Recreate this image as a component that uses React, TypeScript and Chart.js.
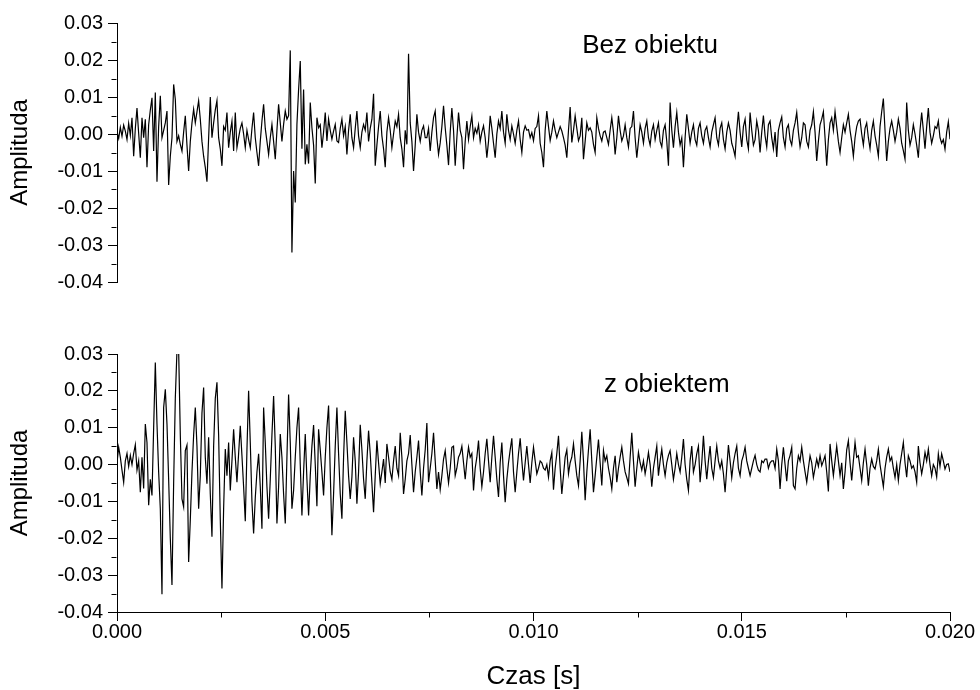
import { useEffect, useRef } from 'react';
import { Chart, registerables } from 'chart.js';

Chart.register(...registerables);

// Sampling period of the recorded signals (seconds per sample)
const SAMPLE_PERIOD_S = 0.00004;
// Amplitude values below are written in thousandths (x 0.001)
const AMPLITUDE_UNIT = 0.001;

// Upper panel: "Bez obiektu"
const BEZ_OBIEKTU = [
  0.5, -1.2, 1.8, -0.6, 2.4, 0.8, -1.5, 2.9, -0.4, 4.4,
  -6.0, 1.5, 7.0, 0.2, -6.4, 4.4, -1.0, 4.0, -9.0, 2.5,
  6.5, 9.8, -4.6, 11.2, -12.9, 2.0, 10.3, -1.0, 1.0, 3.0,
  6.2, -13.8, -6.0, -1.0, 13.4, 9.4, -2.0, -0.5, -2.8, -4.6,
  0.5, 4.9, -3.0, -10.0, -2.0, 3.0, 6.7, 3.0, 6.0, 9.0,
  4.0, -2.0, -6.0, -9.0, -12.9, -1.0, 10.0, -1.0, 3.0, 6.5,
  9.0, -1.0, -4.0, -8.6, 2.0, 1.0, 5.8, -3.7, 0.5, 3.5,
  -4.6, 5.8, -3.7, -1.0, 1.5, 3.0, 0.0, -3.7, 1.0, -1.5,
  -3.7, 1.5, 5.8, -1.0, -5.0, -8.6, -2.0, 3.5, 8.0, 1.5,
  -2.0, -5.5, -1.0, 2.6, -2.0, -6.8, 1.0, 8.0, 3.0, -2.0,
  2.6, 6.2, 4.0, 5.0, 22.6, -32.0, -10.0, -18.5, 2.6, 12.0,
  19.7, -4.0, 12.0, -8.2, -2.8, -8.0, 8.5, 1.7, -3.0, -13.4,
  4.4, 1.7, 2.5, -3.7, 0.5, 5.8, -1.9, 4.0, 1.0, -1.4,
  0.8, 2.6, -1.9, -2.3, 1.5, 4.0, -0.5, 2.0, -5.5, 1.0,
  5.3, -1.0, -3.7, 1.5, 6.2, -0.5, -3.7, 0.5, 2.6, 1.0,
  5.8, -2.0, 1.5, 4.0, 10.9, -8.6, -3.0, 2.0, 6.2, -0.5,
  -4.0, -9.0, 0.5, 4.4, 1.0, -3.7, 0.0, 3.5, 2.0, 5.3,
  -1.0, -4.0, -9.0, 1.0, -2.8, 21.7, 3.0, -2.0, -10.0, -3.0,
  5.3, 0.5, -2.0, 1.0, 2.2, -1.0, -1.0, 1.5, -4.6, 0.5,
  4.4, 6.2, -1.0, -5.5, -2.4, 2.0, 7.6, 1.7, -3.0, -8.4,
  0.5, 7.0, 1.0, -8.6, -1.0, 5.8, 1.0, -1.0, -9.5, -2.0,
  3.5, -1.5, 2.0, 4.9, -1.0, 1.5, 0.2, 2.5, -2.0, 0.5,
  2.2, -1.0, -6.4, -2.0, 4.9, 1.5, -2.5, -6.4, 0.0, 3.5,
  1.5, 6.2, 0.5, -2.5, 5.3, 1.0, -1.5, 2.2, 0.0, -2.5,
  1.0, 3.5, -1.5, -5.0, 0.5, 2.2, 1.0, 1.2, -1.0, 0.4,
  -1.8, 1.5, 2.0, 4.9, -2.5, -5.0, -9.0, 1.0, 6.2, 2.0,
  -1.8, 0.5, 3.5, 1.0, -1.0, 0.5, 2.0, 0.8, -1.0, -3.0,
  -6.4, 1.0, 7.3, -2.3, 1.0, 4.9, 1.5, -1.8, -0.5, 4.4,
  -6.8, -2.0, 3.0, 1.0, 1.7, 0.5, -2.8, -5.0, 4.4, 1.5,
  -0.5, -1.9, 0.5, 0.8, -1.0, -2.8, 1.0, 4.4, 0.5, -5.5,
  -1.0, 4.9, 1.0, -1.9, -0.5, 2.5, -1.0, -3.5, 1.5, 2.0,
  6.2, -1.0, -6.4, -2.0, 2.5, 0.5, -2.5, 1.5, 3.5, -1.0,
  -3.0, 0.8, 2.5, -1.5, 1.0, 3.0, -2.0, -3.5, 1.0, 2.5,
  -2.0, -8.6, 8.5, 1.0, -3.7, 2.0, 5.8, 0.5, -3.0, -1.0,
  -9.0, -1.0, 5.3, 1.5, -2.5, 0.5, 2.5, -1.5, -3.0, 1.5,
  3.0, -0.5, -2.5, 1.0, 2.0, -1.0, -3.5, 0.5, 2.5, 4.4,
  -1.0, -3.0, 1.5, 3.0, -1.5, -4.0, 0.5, 3.0, 1.0, -2.5,
  -4.0, -6.0, 1.0, 6.0, 0.5, -3.5, 2.0, 4.0, -1.5, -4.0,
  5.8, 1.0, -3.0, -1.5, 3.5, 1.0, -5.0, 0.5, 5.0, -0.5,
  -3.5, 2.5, 3.5, -1.0, -4.0, 0.5, -6.2, 1.0, 3.0, 4.6,
  -1.0, -3.5, 1.5, 2.5, -1.5, -3.0, 1.0, 3.0, 5.8, 0.5,
  -3.5, -1.0, 3.0, 2.5, -2.0, -3.5, 1.0, 2.5, 6.0, 0.5,
  -7.3, -2.0, 2.5, 4.0, 6.0, -1.0, -8.6, -1.5, 3.0, 4.4,
  1.0, 6.0, 2.0, -2.0, -5.0, -1.0, 2.5, 0.5, 3.0, 5.3,
  1.0, -2.0, -6.0, -1.0, 2.0, 3.5, 4.0, 0.0, -3.0, 1.5,
  3.0, -1.0, -4.0, 1.0, 3.5, -0.5, -3.0, -6.0, 2.0, 6.0,
  9.6, 1.0, -7.3, -2.0, 1.5, 3.5, 1.0, -2.0, 0.5, 4.0,
  1.5, -2.5, -4.5, -6.8, 8.5, 1.0, -3.0, -1.0, 2.5, 0.0,
  -3.0, -6.4, 1.0, 5.8, 1.0, -4.0, 2.0, 7.0, 0.5, -2.5,
  -0.5, 2.0, 1.5, 3.5, -1.0, -2.5, -1.5, -4.1, 0.5, 3.3,
  -1.4,
];

// Lower panel: "z obiektem"
const Z_OBIEKTEM = [
  0.5, 4.7, 2.0, -1.5, -4.8, 1.0, 3.0, -0.5, 2.5, 0.0,
  3.0, 5.4, -1.5, 1.0, -7.5, 2.0, -6.5, 11.0, 6.0, -11.0,
  -4.0, -8.4, 10.0, 27.7, 11.0, -2.0, -12.0, -35.2, 15.5, 20.4,
  11.0, -4.0, -20.0, -32.7, -5.0, 18.0, 31.0, 31.0, 8.0, -9.3,
  -11.5, 3.8, 5.3, -26.4, -15.0, -2.0, 8.0, 15.5, 5.0, -12.0,
  -3.0, 14.0, 20.9, 2.0, -5.2, 7.4, -8.0, -19.6, 5.0, 18.0,
  22.3, 8.0, -15.0, -33.6, -12.0, 4.2, -3.0, 6.0, -7.0, 1.0,
  9.6, 2.0, -4.8, 3.0, 10.5, 2.4, -6.0, -15.4, 4.0, 20.0,
  6.0, -10.0, -18.7, -9.0, -2.0, 2.9, -6.0, -17.4, 15.5, 6.0,
  -6.0, -14.7, -4.0, 8.0, 18.6, 5.0, -16.0, -6.0, 8.3, 2.0,
  -8.0, -16.0, 2.0, 19.0, 6.0, -12.0, -7.0, 2.0, 10.0, 15.5,
  0.0, -13.8, -2.0, 8.3, -4.0, -13.8, -3.0, 5.0, 10.7, 0.0,
  -11.3, 9.6, 4.0, -2.0, -8.4, 2.0, 10.0, 16.0, -2.0, -19.2,
  -8.0, 5.0, 15.5, 3.0, -8.0, -14.7, 2.0, 14.6, 6.0, -3.0,
  -9.3, -3.4, 7.4, 1.0, -10.6, -2.0, 10.8, 4.0, -4.0, -9.3,
  1.0, 9.2, 3.0, -5.0, -12.9, -3.0, 6.5, 0.5, -5.2, -2.0,
  1.5, -5.0, 5.6, 2.0, -2.0, -4.0, 1.0, 5.0, -1.0, -3.0,
  8.6, 2.0, -8.0, -4.0, 1.0, 3.0, 8.0, 0.0, -7.5, -2.0,
  2.0, 6.5, -2.0, -8.4, -1.0, 4.0, 11.3, -4.8, -1.0, 3.0,
  8.6, 1.0, -6.6, -2.0, -6.8, -3.0, 1.5, 3.8, -1.0, -5.0,
  -1.0, 4.7, 5.0, -3.0, -1.0, 2.0, 3.0, 5.0, 0.5, -4.0,
  1.0, 4.7, 2.0, 3.0, -7.0, -1.0, 2.0, 6.5, -1.0, -6.0,
  -2.0, 3.0, 7.0, 1.0, -4.8, 2.0, 7.8, 2.0, -4.0, -8.8,
  0.5, 6.0, -3.0, -10.2, -4.0, 0.5, 4.0, 7.1, -2.0, -7.5,
  -2.0, 3.0, 7.1, 1.0, -4.3, 0.5, 5.0, 0.0, -5.0, 0.5,
  4.7, 1.0, -2.5, -1.0, 1.0, 0.5, -1.0, -1.5, 0.0, -3.4,
  1.0, 3.3, -6.8, -1.0, 3.0, 7.8, -1.0, -8.0, -3.0, 2.0,
  4.0, -2.5, 0.5, 2.0, 5.6, 1.0, -3.0, -5.7, 1.0, 8.9,
  1.0, -9.7, -2.0, 4.0, 9.6, 1.0, -7.5, -3.0, 2.0, 6.8,
  0.5, -5.7, 3.8, 1.0, 2.4, -1.0, -3.5, -6.6, -1.0, 2.4,
  -4.8, -1.0, 2.0, 4.7, 1.0, -2.0, -3.5, -5.2, 2.0, 8.6,
  1.0, -6.0, -1.0, 3.3, 0.5, -1.5, 1.0, -2.5, 0.0, 3.3,
  0.0, -6.0, -1.0, 2.0, 5.0, -3.0, 1.0, 4.2, 0.0, -3.0,
  0.5, 2.5, 3.8, 0.0, -4.0, -1.0, 3.0, 0.0, -2.0, 2.0,
  6.9, 0.0, -4.0, -7.0, 1.0, 5.0, -2.0, 0.0, 3.0, 5.0,
  -4.8, 0.5, 7.8, 1.0, -4.0, 1.0, 5.0, -1.0, -3.5, 1.0,
  5.0, 1.0, -1.0, 1.0, -2.5, -7.5, -1.0, 5.3, 1.0, -3.5,
  0.5, 3.0, 5.0, -1.0, -3.0, 1.0, 2.5, 4.7, 1.0, -1.0,
  -3.0, -1.0, 1.0, 2.5, 0.0, -1.5, -2.0, 1.0, 0.5, 1.5,
  1.5, -1.0, 0.5, 1.0, 1.0, -1.0, 4.2, 1.0, -6.6, 0.0,
  4.7, 0.0, -4.5, 1.0, 2.5, 4.7, -5.7, -6.6, -1.0, 2.4,
  1.0, 4.7, 1.0, -2.0, -4.8, -1.0, 2.4, 0.5, -3.5, -1.0,
  1.5, -0.5, 2.4, -0.3, 1.0, 2.4, -2.0, -7.3, 5.6, 1.0,
  -3.0, 1.0, 5.0, 1.0, -3.0, 0.5, -6.6, -2.0, 4.0, 6.5,
  0.5, -4.3, 1.0, 6.0, 2.0, 2.4, -1.0, -4.3, 0.5, 4.2,
  0.0, -5.7, -1.0, 1.5, -0.5, -1.2, 1.0, 4.2, 0.0, -3.0,
  -6.0, -1.0, 2.0, 4.2, 1.0, 2.0, -1.0, -3.5, 0.0, -4.3,
  0.0, 3.0, 6.0, 0.5, -3.4, 2.4, 1.0, -1.0, -0.3, -2.0,
  -4.8, 5.0, 0.5, -2.5, 0.0, 3.3, 1.0, 4.2, 0.0, -3.0,
  0.0, -1.0, -3.4, 2.9, -0.5, 2.9, 1.0, -1.2, 0.0, 0.2,
  -2.0,
];

const Y_TICKS = [-0.04, -0.03, -0.02, -0.01, 0, 0.01, 0.02, 0.03];
const Y_MINOR_TICKS = [-0.035, -0.025, -0.015, -0.005, 0.005, 0.015, 0.025];
const X_TICKS = [0, 0.005, 0.01, 0.015, 0.02];
const X_MINOR_TICKS = [0.0025, 0.0075, 0.0125, 0.0175];

const Y_MIN = -0.04;
const Y_MAX = 0.03;
const X_MIN = 0;
const X_MAX = 0.02;

const Y_TITLE = 'Amplituda';
const X_TITLE = 'Czas [s]';
const TOP_LABEL = 'Bez obiektu';
const BOTTOM_LABEL = 'z obiektem';
// label anchor in data coordinates [time, amplitude]
const TOP_LABEL_AT = [0.0128, 0.0219];
const BOTTOM_LABEL_AT = [0.0132, 0.0197];

const FONT = "'Liberation Sans', Arial, Helvetica, sans-serif";
const MAJOR_LEN = 9;
const MINOR_LEN = 5;

const decorPlugin = {
  id: 'decor',
  afterDraw(chart: any, _args: any, opts: any) {
    const ctx = chart.ctx;
    const xs = chart.scales.x;
    const ys = chart.scales.y;
    ctx.save();
    ctx.strokeStyle = '#000';
    ctx.lineWidth = 1;
    const axisX = Math.round(ys.right) - 0.5;
    for (const v of Y_MINOR_TICKS) {
      const py = Math.round(ys.getPixelForValue(v)) + 0.5;
      ctx.beginPath();
      ctx.moveTo(axisX - MINOR_LEN, py);
      ctx.lineTo(axisX, py);
      ctx.stroke();
    }
    if (opts.showX) {
      const axisY = Math.round(xs.top) + 0.5;
      for (const v of X_MINOR_TICKS) {
        const px = Math.round(xs.getPixelForValue(v)) + 0.5;
        ctx.beginPath();
        ctx.moveTo(px, axisY);
        ctx.lineTo(px, axisY + MINOR_LEN);
        ctx.stroke();
      }
    }
    ctx.font = `26px ${FONT}`;
    ctx.fillStyle = '#000';
    ctx.textAlign = 'center';
    ctx.textBaseline = 'alphabetic';
    ctx.fillText(opts.label, xs.getPixelForValue(opts.at[0]), ys.getPixelForValue(opts.at[1]));
    ctx.restore();
  },
};

function fmtY(v: number) {
  return Math.abs(v) < 1e-9 ? '0.00' : v.toFixed(2);
}
function fmtX(v: number) {
  return Math.abs(v) < 1e-9 ? '0.000' : v.toFixed(3);
}

function makeConfig(values: number[], showX: boolean, label: string, at: number[], padTop: number, padBottom: number): any {
  return {
    type: 'line',
    data: {
      datasets: [
        {
          data: values.map((v, i) => ({ x: i * SAMPLE_PERIOD_S, y: v * AMPLITUDE_UNIT })),
          borderColor: '#000',
          borderWidth: 1.2,
          pointRadius: 0,
          tension: 0,
          fill: false,
        },
      ],
    },
    options: {
      responsive: false,
      animation: false,
      devicePixelRatio: 1,
      events: [],
      layout: { padding: { top: padTop, right: 30, bottom: padBottom, left: 0 } },
      plugins: {
        legend: { display: false },
        tooltip: { enabled: false },
        decor: { showX, label, at },
      },
      scales: {
        x: {
          type: 'linear',
          min: X_MIN,
          max: X_MAX,
          display: showX,
          afterBuildTicks: (s: any) => {
            s.ticks = X_TICKS.map((value) => ({ value }));
          },
          afterFit: (s: any) => {
            s.height = showX ? 78 : 0;
          },
          ticks: {
            color: '#000',
            font: { family: FONT, size: 20 },
            padding: -1,
            maxRotation: 0,
            autoSkip: false,
            callback: (v: any) => fmtX(Number(v)),
          },
          grid: { display: true, drawOnChartArea: false, drawTicks: true, tickLength: MAJOR_LEN, color: '#000' },
          border: { display: true, color: '#000', width: 1 },
          title: { display: true, text: X_TITLE, color: '#000', font: { family: FONT, size: 26 }, padding: { top: 0, bottom: -2 } },
        },
        y: {
          type: 'linear',
          min: Y_MIN,
          max: Y_MAX,
          afterBuildTicks: (s: any) => {
            s.ticks = Y_TICKS.map((value) => ({ value }));
          },
          afterFit: (s: any) => {
            s.width = 117;
          },
          ticks: {
            color: '#000',
            font: { family: FONT, size: 20 },
            padding: 5,
            autoSkip: false,
            callback: (v: any) => fmtY(Number(v)),
          },
          grid: { display: true, drawOnChartArea: false, drawTicks: true, tickLength: MAJOR_LEN, color: '#000' },
          border: { display: true, color: '#000', width: 1 },
          title: { display: true, text: Y_TITLE, color: '#000', font: { family: FONT, size: 24 }, padding: { top: 6, bottom: 0 } },
        },
      },
    },
    plugins: [decorPlugin],
  };
}

export default function App() {
  const topRef = useRef<HTMLCanvasElement | null>(null);
  const bottomRef = useRef<HTMLCanvasElement | null>(null);

  useEffect(() => {
    if (!topRef.current || !bottomRef.current) return;
    const top = new Chart(topRef.current, makeConfig(BEZ_OBIEKTU, false, TOP_LABEL, TOP_LABEL_AT, 23, 18));
    const bottom = new Chart(bottomRef.current, makeConfig(Z_OBIEKTEM, true, BOTTOM_LABEL, BOTTOM_LABEL_AT, 54, 0));
    return () => {
      top.destroy();
      bottom.destroy();
    };
  }, []);

  return (
    <div style={{ position: 'fixed', left: 0, top: 0, width: 980, height: 690, background: '#fff', overflow: 'hidden' }}>
      <canvas ref={topRef} width={980} height={300} style={{ position: 'absolute', left: 0, top: 0, width: 980, height: 300 }} />
      <canvas ref={bottomRef} width={980} height={390} style={{ position: 'absolute', left: 0, top: 300, width: 980, height: 390 }} />
    </div>
  );
}
